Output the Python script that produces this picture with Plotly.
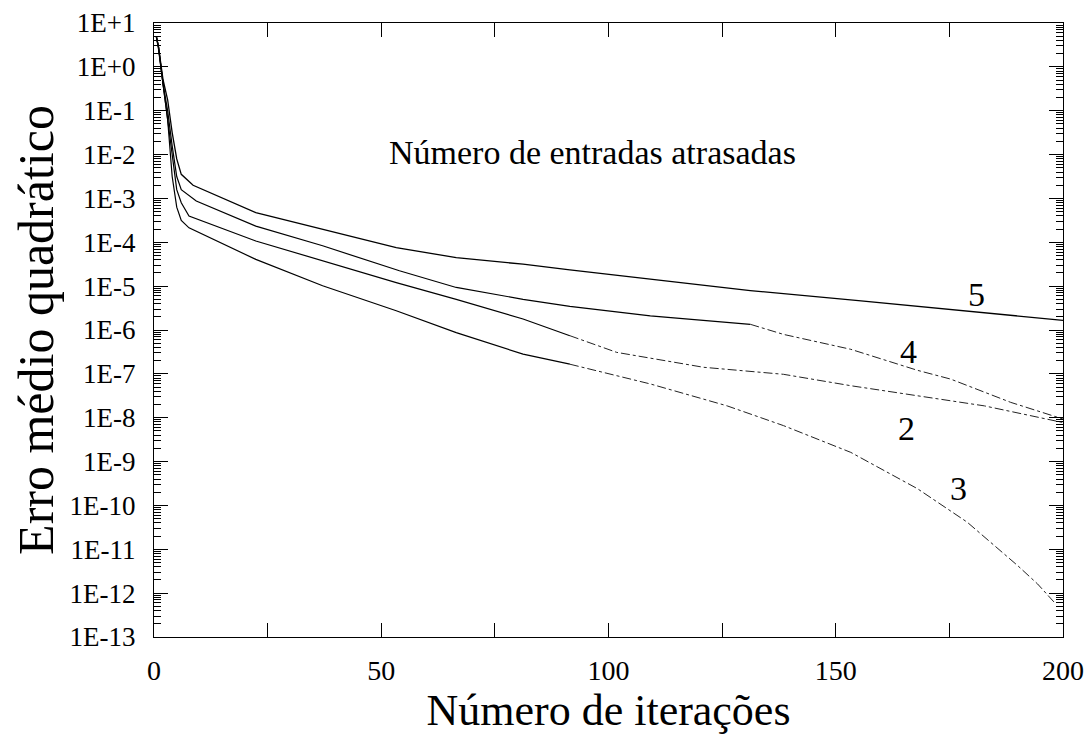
import plotly.graph_objects as go
import numpy as np

# ---- data (values are log10 of the error) ----
x5 = [0.5, 1, 2, 3, 4, 5, 6, 8.6, 22.4, 37.1, 53.3, 66.5, 81.2, 91.5, 110, 131.2, 155, 175.3, 200]
l5 = [0.7, 0.45, -0.3, -0.75, -1.5, -2.1, -2.45, -2.70, -3.325, -3.705, -4.12, -4.35, -4.50, -4.63, -4.85, -5.10, -5.33, -5.53, -5.78]

x4 = [0.5, 1, 2, 3, 4, 5, 6, 9.3, 22.4, 37.1, 54, 66.5, 81.2, 91.5, 109.2, 131.2, 138.5, 153.3, 168, 175.3, 188.5, 200]
l4 = [0.7, 0.45, -0.4, -1.0, -1.8, -2.5, -2.8, -3.06, -3.63, -4.08, -4.65, -5.03, -5.30, -5.46, -5.68, -5.87, -6.10, -6.44, -6.92, -7.12, -7.65, -8.03]

x2 = [0.5, 1, 2, 3, 4, 5, 6, 7.7, 22.4, 37.1, 53.3, 66.5, 81.2, 91.5, 101.8, 120.9, 138.5, 153.3, 168, 182.7, 200]
l2 = [0.7, 0.45, -0.4, -1.2, -2.1, -2.8, -3.1, -3.40, -3.97, -4.42, -4.92, -5.30, -5.75, -6.13, -6.51, -6.85, -7.01, -7.27, -7.50, -7.73, -8.11]

x3 = [0.5, 1, 2, 3, 4, 5, 6, 7.7, 22.4, 37.1, 53.3, 66.5, 81.2, 91.5, 109.2, 126.1, 138.5, 153.3, 168, 178.9, 190, 194.4, 198]
l3 = [0.7, 0.4, -0.4, -1.2, -2.5, -3.2, -3.5, -3.67, -4.39, -4.99, -5.56, -6.06, -6.55, -6.78, -7.23, -7.73, -8.18, -8.79, -9.62, -10.38, -11.37, -11.79, -12.2]

series = [
    ("5", x5, l5, None),
    ("4", x4, l4, 131.2),
    ("2", x2, l2, 91.5),
    ("3", x3, l3, 91.5),
]

curve_labels = ["5", "4", "2", "3"]
label_x = [181, 166, 165.5, 177]
label_log = [-5.2, -6.49, -8.24, -9.62]

ytick_exp = list(range(1, -14, -1))
ytick_text = ["1E+1" if e == 1 else ("1E+0" if e == 0 else f"1E{e}") for e in ytick_exp]
xtick_vals = [0, 50, 100, 150, 200]

FONT = "Liberation Serif"

fig = go.Figure()
for name, xs, ls, split in series:
    xs = np.array(xs, dtype=float)
    ys = 10.0 ** np.array(ls, dtype=float)
    if split is None:
        fig.add_trace(go.Scatter(x=xs, y=ys, mode="lines", line=dict(color="black", width=1.3),
                                 showlegend=False, hoverinfo="skip"))
    else:
        m1 = xs <= split
        m2 = xs >= split
        fig.add_trace(go.Scatter(x=xs[m1], y=ys[m1], mode="lines", line=dict(color="black", width=1.2),
                                 showlegend=False, hoverinfo="skip"))
        fig.add_trace(go.Scatter(x=xs[m2], y=ys[m2], mode="lines",
                                 line=dict(color="#222", width=1.0, dash="dashdot"),
                                 showlegend=False, hoverinfo="skip"))

for t, lx, ly in zip(curve_labels, label_x, label_log):
    fig.add_annotation(x=lx, y=ly, text=t, showarrow=False,
                       font=dict(family=FONT, size=34, color="black"))

fig.add_annotation(x=96.4, y=-1.96, text="Número de entradas atrasadas", showarrow=False,
                   font=dict(family=FONT, size=34, color="black"))

# page body has an 8px margin, so the figure is sized/offset to compensate
fig.update_layout(
    width=1084, height=727,
    margin=dict(l=146, r=29, t=15, b=98),
    paper_bgcolor="white", plot_bgcolor="white",
    font=dict(family=FONT, color="black"),
)
fig.update_xaxes(
    range=[0, 200], tickvals=xtick_vals, ticks="inside", ticklen=14, tickwidth=1,
    tickcolor="black", showline=True, linecolor="black", linewidth=1, mirror="ticks",
    showgrid=False, zeroline=False, tickfont=dict(family=FONT, size=28),
    minor=dict(ticks="inside", ticklen=14, dtick=25, tickcolor="black", showgrid=False),
    ticklabelstandoff=8, automargin=False, ticklabeloverflow="allow",
    title=dict(text="Número de iterações", font=dict(family=FONT, size=44), standoff=2),
)
fig.update_yaxes(
    type="log", range=[-13, 1], tickvals=[10.0 ** e for e in ytick_exp], ticktext=ytick_text,
    ticks="inside", ticklen=14, tickwidth=1, tickcolor="black",
    showline=True, linecolor="black", linewidth=1, mirror="ticks",
    showgrid=False, zeroline=False, tickfont=dict(family=FONT, size=27),
    minor=dict(ticks="inside", ticklen=7, dtick="D1", tickcolor="black", showgrid=False),
    ticklabelstandoff=12, automargin=False, ticklabeloverflow="allow",
    title=dict(text="Erro médio quadrático", font=dict(family=FONT, size=50), standoff=8),
)

fig.write_html("out.html")
